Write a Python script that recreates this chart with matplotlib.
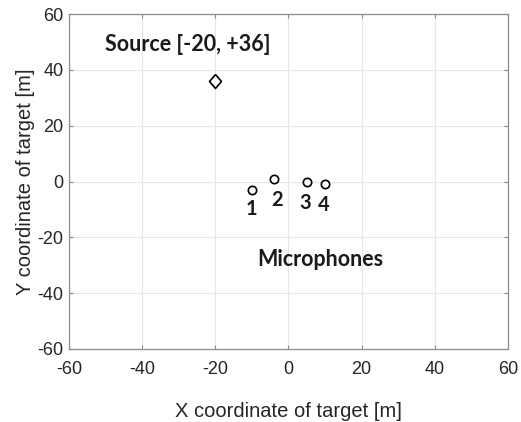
import matplotlib
matplotlib.use("Agg")
import matplotlib.pyplot as plt

plt.rcParams["font.family"] = ["Liberation Sans", "DejaVu Sans"]
plt.rcParams["axes.unicode_minus"] = False

source_x = [-20]
source_y = [36]
mic_x = [-10, -4, 5, 10]
mic_y = [-3, 1, 0, -1]
mic_labels = ["1", "2", "3", "4"]
mic_label_x = [-10, -3, 4.5, 9.7]
mic_label_y = [-10, -6.7, -7.7, -8.5]
ticks = [-60, -40, -20, 0, 20, 40, 60]

fig = plt.figure(figsize=(5.21, 4.22), dpi=100)
ax = fig.add_axes([0.1324, 0.173, 0.8426, 0.7938])
ax.set_xlim(-60, 60)
ax.set_ylim(-60, 60)
ax.set_xticks(ticks)
ax.set_yticks(ticks)
ax.grid(True, color="#e6e6e6", linewidth=0.8)
ax.set_axisbelow(True)
for s in ax.spines.values():
    s.set_color("#8c8c8c")
    s.set_linewidth(0.9)
ax.tick_params(direction="in", length=3, color="#8c8c8c", labelsize=13,
               labelcolor="#262626", top=True, right=True)
ax.tick_params(axis="x", pad=9)
ax.tick_params(axis="y", pad=4)

diamond = [(0, 0.5), (0.43, 0), (0, -0.5), (-0.43, 0), (0, 0.5)]
ax.plot(source_x, source_y, linestyle="none", marker=diamond, markersize=10,
        markerfacecolor="white", markeredgecolor="black", markeredgewidth=1.2)
ax.plot(mic_x, mic_y, linestyle="none", marker="o", markersize=6,
        markerfacecolor="white", markeredgecolor="black", markeredgewidth=1.2)

for t, x, y in zip(mic_labels, mic_label_x, mic_label_y):
    ax.text(x, y, t, ha="center", va="center", fontsize=14.5, fontweight="bold",
            family="Lato", color="#1a1a1a")
ax.text(8.6, -27.8, "Microphones", ha="center", va="center", fontsize=15.5,
        fontweight="bold", family="Lato", color="#1a1a1a")
ax.text(-27.6, 48.9, "Source [-20, +36]", ha="center", va="center", fontsize=15.5,
        fontweight="bold", family="Lato", color="#1a1a1a")

ax.set_xlabel("X coordinate of target [m]", fontsize=14.5, color="#262626", labelpad=17)
ax.set_ylabel("Y coordinate of target [m]", fontsize=14.5, color="#262626", labelpad=2)

fig.savefig("out.png", dpi=100)
